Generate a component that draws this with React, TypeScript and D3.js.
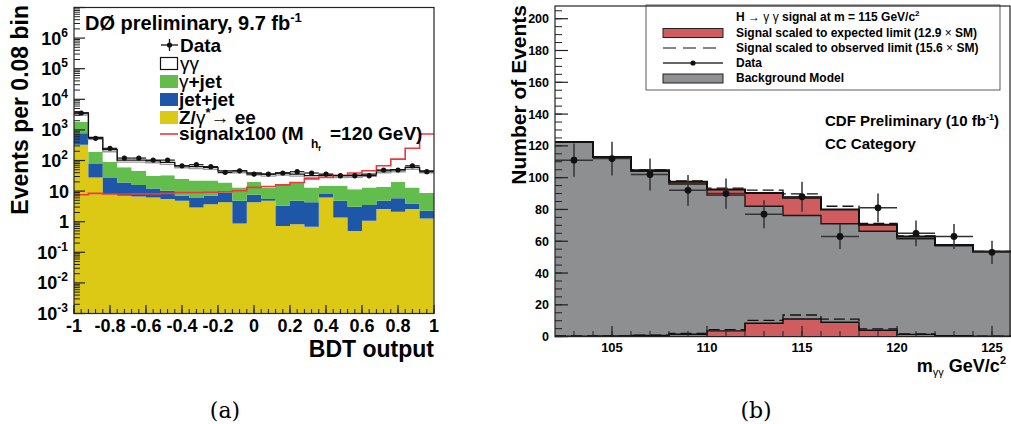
import React from 'react';
import * as d3 from 'd3';

// ---------------- Panel (a): D0 BDT output ----------------
const bdtTickValues = [-1, -0.8, -0.6, -0.4, -0.2, 0, 0.2, 0.4, 0.6, 0.8, 1];
const bdtTickLabels = ['-1', '-0.8', '-0.6', '-0.4', '-0.2', '0', '0.2', '0.4', '0.6', '0.8', '1'];
const logTickExponents = [-3, -2, -1, 0, 1, 2, 3, 4, 5, 6];

const d0Data = [3570, 530, 250, 120, 120, 103, 103, 67, 73, 63, 41, 46, 36, 36, 39, 43, 39, 36, 32, 32, 32, 49, 49, 67, 43];
const zee = [329, 28, 8.0, 7.0, 6.7, 6.2, 5.5, 4.8, 2.9, 3.75, 4.3, 0.87, 4.3, 4.8, 0.73, 0.83, 0.68, 6.2, 1.37, 0.5, 1.07, 2.6, 2.1, 2.6, 1.27];
const jetjet = [444, 49, 19, 12, 9.0, 6.0, 4.8, 2.2, 3.0, 3.25, 4.7, 3.93, 3.3, 0.7, 2.57, 3.97, 3.62, 1.8, 3.43, 2.6, 2.43, 2.2, 3.7, 1.3, 1.03];
const gammajet = [1087, 117, 64, 41, 30.3, 19.8, 22.7, 18, 16.1, 15, 10, 8.2, 12.4, 7.5, 13.7, 15.2, 8.7, 7, 10.2, 8.5, 9.5, 9.2, 14.2, 9.1, 6.3];
const gammagamma = [1710, 377, 134, 43, 57, 66, 54, 42, 41, 38, 27, 33, 19, 23, 22, 16, 19, 18, 17, 21.4, 23, 32, 30, 47, 37.4];
const signalx100 = [7.6, 8.4, 8.0, 8.0, 8.1, 8.1, 8.4, 9.0, 9.0, 9.2, 9.5, 10.3, 13.2, 14.2, 16, 19, 25, 28, 33, 39, 46, 67, 111, 250, 735];

// ---------------- Panel (b): CDF diphoton mass ----------------
const massTickValues = [105, 110, 115, 120, 125];
const countTickValues = [0, 20, 40, 60, 80, 100, 120, 140, 160, 180, 200];
const bkgModel = [122.2, 112.6, 104.0, 96.0, 89.0, 82.0, 76.2, 71.0, 66.3, 61.6, 57.2, 53.3];
const sigExpected = [0.3, 0.4, 0.7, 1.5, 3.6, 8.4, 11.1, 9.0, 4.0, 1.4, 0.5, 0.2];
const sigObserved = [0.4, 0.5, 0.9, 2.0, 4.4, 10.2, 13.6, 11.0, 4.9, 1.7, 0.6, 0.3];
const cdfData = [111, 112, 102, 92, 90, 77, 88, 63, 81, 65, 63, 53];
const cdfDataErr = [10.5, 10.6, 10.1, 9.6, 9.5, 8.8, 9.4, 7.9, 9.0, 8.1, 7.9, 7.3];

const FONT = '"Liberation Sans", Arial, Helvetica, sans-serif';
const C_YEL = '#dcc916';
const C_BLUE = '#1f57a8';
const C_GREEN = '#62bd4c';
const C_RED = '#ea3a3c';
const C_GRAY = '#8e8f91';
const C_SIG = '#cf5c5f';

type Pt = [number, number];

function stepPoints(lo: number, w: number, vals: number[]): Pt[] {
  const pts: Pt[] = vals.map((v, i) => [lo + i * w, v] as Pt);
  pts.push([lo + vals.length * w, vals[vals.length - 1]]);
  return pts;
}

function cumulate(layers: number[][]): number[][] {
  const out: number[][] = [];
  let acc = layers[0].map(() => 0);
  for (const l of layers) {
    acc = acc.map((a, i) => a + l[i]);
    out.push(acc.slice());
  }
  return out;
}

function PanelA() {
  const x = d3.scaleLinear().domain([-1, 1]).range([74, 434]);
  const y = d3.scaleLog().domain([1e-3, 1e7]).range([313.5, 7.5]).clamp(true);
  const bw = 0.08;
  const cum = cumulate([zee, jetjet, gammajet, gammagamma]);
  const colors = [C_YEL, C_BLUE, C_GREEN, '#ffffff'];
  const line = d3.line<Pt>().x(d => x(d[0])).y(d => y(d[1])).curve(d3.curveStepAfter);

  const layers = cum.map((top, li) => {
    const bottom = li === 0 ? top.map(() => 1e-3) : cum[li - 1];
    const ptsTop = stepPoints(-1, bw, top);
    const ptsBot = stepPoints(-1, bw, bottom);
    const a = d3.area<number>()
      .x(i => x(ptsTop[i][0]))
      .y0(i => y(ptsBot[i][1]))
      .y1(i => y(ptsTop[i][1]))
      .curve(d3.curveStepAfter);
    return <path key={li} d={a(ptsTop.map((_, i) => i)) || ''} fill={colors[li]} stroke="none" />;
  });

  const totalPts = stepPoints(-1, bw, cum[3]);
  const sigPts = stepPoints(-1, bw, signalx100);

  const minorY: number[] = [];
  for (let e = -3; e < 7; e++) for (let m = 2; m <= 9; m++) minorY.push(m * Math.pow(10, e));
  const minorX = d3.range(-1, 1.0001, 0.04);

  return (
    <g fontFamily={FONT}>
      {layers}
      <path d={line(totalPts) || ''} fill="none" stroke="#9a9a9a" strokeWidth={1.4} transform="translate(0,2)" />
      <path d={line(totalPts) || ''} fill="none" stroke="#111" strokeWidth={1.3} />
      <path d={line(sigPts) || ''} fill="none" stroke={C_RED} strokeWidth={1.6} />
      {d0Data.map((v, i) => {
        const cx = x(-1 + (i + 0.5) * bw);
        const e = Math.sqrt(v);
        return (
          <g key={i}>
            <line x1={x(-1 + i * bw)} x2={x(-1 + (i + 1) * bw)} y1={y(v)} y2={y(v)} stroke="#111" strokeWidth={1.2} />
            <line x1={cx} x2={cx} y1={y(v + e)} y2={y(Math.max(v - e, 1e-3))} stroke="#111" strokeWidth={1.2} />
            <circle cx={cx} cy={y(v)} r={2.6} fill="#111" />
          </g>
        );
      })}
      {/* frame */}
      <rect x={74} y={7.5} width={360} height={306} fill="none" stroke="#222" strokeWidth={1.2} />
      {/* y ticks */}
      {minorY.map((v, i) => (
        <line key={'my' + i} x1={74} x2={80} y1={y(v)} y2={y(v)} stroke="#222" strokeWidth={1} />
      ))}
      {logTickExponents.concat([7]).map(e => (
        <line key={'My' + e} x1={74} x2={85} y1={y(Math.pow(10, e))} y2={y(Math.pow(10, e))} stroke="#222" strokeWidth={1.2} />
      ))}
      {logTickExponents.map(e => {
        const ty = y(Math.pow(10, e)) + 6.5;
        if (e === 0) return <text key={'ly' + e} x={69} y={ty} textAnchor="end" fontSize={18} fontWeight="bold">1</text>;
        if (e === 1) return <text key={'ly' + e} x={69} y={ty} textAnchor="end" fontSize={18} fontWeight="bold">10</text>;
        return (
          <text key={'ly' + e} x={68} y={ty} textAnchor="end" fontSize={18} fontWeight="bold">
            10<tspan dy={-8} fontSize={12}>{String(e)}</tspan>
          </text>
        );
      })}
      {/* x ticks */}
      {minorX.map((v, i) => (
        <line key={'mx' + i} x1={x(v)} x2={x(v)} y1={313.5} y2={309} stroke="#222" strokeWidth={1} />
      ))}
      {bdtTickValues.map((v, i) => (
        <g key={'Mx' + i}>
          <line x1={x(v)} x2={x(v)} y1={313.5} y2={305} stroke="#222" strokeWidth={1.2} />
          <text x={x(v)} y={332} textAnchor="middle" fontSize={18} fontWeight="bold">{bdtTickLabels[i]}</text>
        </g>
      ))}
      {/* titles */}
      <text x={434} y={357} textAnchor="end" fontSize={23} fontWeight="bold">BDT output</text>
      <text transform="translate(28,5) rotate(-90)" textAnchor="end" fontSize={23} fontWeight="bold">Events per 0.08 bin</text>
      {/* legend */}
      <text x={85} y={30} fontSize={20} fontWeight="bold">DØ preliminary, 9.7 fb<tspan dy={-8} fontSize={13}>-1</tspan></text>
      <line x1={161} x2={178} y1={45} y2={45} stroke="#111" strokeWidth={1.3} />
      <line x1={169.5} x2={169.5} y1={39} y2={51} stroke="#111" strokeWidth={1.3} />
      <circle cx={169.5} cy={45} r={2.6} fill="#111" />
      <text x={180} y={52} fontSize={19} fontWeight="bold">Data</text>
      <rect x={160.5} y={57.5} width={17} height={12} fill="#fff" stroke="#111" strokeWidth={1.2} />
      <text x={180} y={70} fontSize={19}>γγ</text>
      <rect x={160} y={75} width={18} height={13} fill={C_GREEN} />
      <text x={179} y={88} fontSize={19}>γ<tspan fontWeight="bold">+jet</tspan></text>
      <rect x={160} y={93} width={18} height={13} fill={C_BLUE} />
      <text x={179} y={106} fontSize={19} fontWeight="bold">jet+jet</text>
      <rect x={160} y={111} width={18} height={13} fill={C_YEL} />
      <text x={179} y={124} fontSize={19} fontWeight="bold">Z/<tspan fontWeight="normal">γ</tspan><tspan dy={-7} fontSize={13}>*</tspan><tspan dy={7} fontWeight="normal">→</tspan> ee</text>
      <line x1={160} x2={178} y1={134} y2={134} stroke={C_RED} strokeWidth={1.6} />
      <text x={179} y={140} fontSize={19} fontWeight="bold">signalx100 (M</text>
      <text x={311} y={148} fontSize={12} fontWeight="bold">h</text>
      <text x={318} y={151} fontSize={8} fontWeight="bold">f</text>
      <text x={330} y={140} fontSize={19} fontWeight="bold">=120 GeV)</text>
    </g>
  );
}

function PanelB() {
  const x = d3.scaleLinear().domain([102, 126]).range([555, 1011]);
  const y = d3.scaleLinear().domain([0, 208]).range([336.6, 6]);
  const lo = 102, bw = 2;
  const sumExp = bkgModel.map((b, i) => b + sigExpected[i]);
  const sumObs = bkgModel.map((b, i) => b + sigObserved[i]);
  const pBkg = stepPoints(lo, bw, bkgModel);
  const pExp = stepPoints(lo, bw, sumExp);
  const pObs = stepPoints(lo, bw, sumObs);
  const pSigE = stepPoints(lo, bw, sigExpected);
  const pSigO = stepPoints(lo, bw, sigObserved);
  const line = d3.line<Pt>().x(d => x(d[0])).y(d => y(d[1])).curve(d3.curveStepAfter);
  const areaFrom = (top: Pt[], bot: Pt[]) =>
    d3.area<number>()
      .x(i => x(top[i][0]))
      .y0(i => y(bot[i][1]))
      .y1(i => y(top[i][1]))
      .curve(d3.curveStepAfter)(top.map((_, i) => i)) || '';
  const zeroPts = pBkg.map(p => [p[0], 0] as Pt);
  const minorY = d3.range(0, 206, 5);
  const minorX = d3.range(103, 126, 1);

  return (
    <g fontFamily={FONT}>
      <path d={areaFrom(pBkg, zeroPts)} fill={C_GRAY} />
      <path d={areaFrom(pExp, pBkg)} fill={C_SIG} />
      <path d={line(pBkg) || ''} fill="none" stroke="#1a1a1a" strokeWidth={1.4} />
      <path d={line(pExp) || ''} fill="none" stroke="#111" strokeWidth={2} />
      <path d={line(pObs) || ''} fill="none" stroke="#111" strokeWidth={1.3} strokeDasharray="11,5" />
      <path d={areaFrom(pSigE, zeroPts)} fill={C_SIG} />
      <path d={line(pSigE) || ''} fill="none" stroke="#111" strokeWidth={1.4} />
      <path d={line(pSigO) || ''} fill="none" stroke="#111" strokeWidth={1.3} strokeDasharray="11,5" />
      {cdfData.map((v, i) => {
        const cx = x(lo + (i + 0.5) * bw);
        return (
          <g key={i}>
            <line x1={x(lo + i * bw)} x2={x(lo + (i + 1) * bw)} y1={y(v)} y2={y(v)} stroke="#333" strokeWidth={1.5} />
            <line x1={cx} x2={cx} y1={y(v + cdfDataErr[i])} y2={y(v - cdfDataErr[i])} stroke="#333" strokeWidth={1.5} />
            <circle cx={cx} cy={y(v)} r={3.4} fill="#111" />
          </g>
        );
      })}
      <rect x={555} y={6} width={455} height={330.6} fill="none" stroke="#222" strokeWidth={1.2} />
      {minorY.map((v, i) => (
        <line key={'my' + i} x1={555} x2={562} y1={y(v)} y2={y(v)} stroke="#222" strokeWidth={1} />
      ))}
      {countTickValues.map(v => (
        <g key={'My' + v}>
          <line x1={555} x2={568} y1={y(v)} y2={y(v)} stroke="#222" strokeWidth={1.2} />
          <text x={549} y={y(v) + 4.5} textAnchor="end" fontSize={12.5} fontWeight="bold">{v}</text>
        </g>
      ))}
      {minorX.map((v, i) => (
        <line key={'mx' + i} x1={x(v)} x2={x(v)} y1={336.6} y2={331} stroke="#222" strokeWidth={1} />
      ))}
      {massTickValues.map(v => (
        <g key={'Mx' + v}>
          <line x1={x(v)} x2={x(v)} y1={336.6} y2={326} stroke="#222" strokeWidth={1.2} />
          <text x={x(v)} y={352} textAnchor="middle" fontSize={13} fontWeight="bold">{v}</text>
        </g>
      ))}
      <text x={1006} y={372} textAnchor="end" fontSize={18} fontWeight="bold">
        m<tspan dy={4} fontSize={11} fontWeight="normal">γγ</tspan><tspan dy={-4}> GeV/c</tspan><tspan dy={-8} fontSize={11}>2</tspan>
      </text>
      <text transform="translate(526,5) rotate(-90)" textAnchor="end" fontSize={21} fontWeight="bold">Number of Events</text>
      {/* legend */}
      <rect x={646} y={5} width={354} height={85} fill="none" stroke="#333" strokeWidth={0.8} />
      <text x={736} y={21} fontSize={12} fontWeight="bold">H <tspan fontWeight="normal">→ γ γ</tspan> signal at m = 115 GeV/c<tspan dy={-5} fontSize={8}>2</tspan></text>
      <rect x={663} y={28.5} width={60} height={9} fill={C_SIG} stroke="#222" strokeWidth={1} />
      <text x={736} y={37} fontSize={12} fontWeight="bold">Signal scaled to expected limit (12.9 <tspan fontWeight="normal">×</tspan> SM)</text>
      <line x1={663} x2={723} y1={48} y2={48} stroke="#111" strokeWidth={1.2} strokeDasharray="13,7" />
      <text x={736} y={52} fontSize={12} fontWeight="bold">Signal scaled to observed limit (15.6 <tspan fontWeight="normal">×</tspan> SM)</text>
      <line x1={663} x2={723} y1={63} y2={63} stroke="#333" strokeWidth={1.3} />
      <circle cx={693} cy={63} r={2.6} fill="#111" />
      <text x={736} y={67} fontSize={12} fontWeight="bold">Data</text>
      <rect x={663} y={74} width={60} height={9} fill={C_GRAY} stroke="#222" strokeWidth={1} />
      <text x={736} y={82} fontSize={12} fontWeight="bold">Background Model</text>
      <text x={825} y={126} fontSize={15} fontWeight="bold">CDF Preliminary (10 fb<tspan dy={-6} fontSize={9}>-1</tspan><tspan dy={6}>)</tspan></text>
      <text x={825} y={149} fontSize={15} fontWeight="bold">CC Category</text>
    </g>
  );
}

export default function App() {
  return (
    <svg width={1011} height={424} viewBox="0 0 1011 424" style={{ position: 'absolute', left: 0, top: 0, background: '#fff' }}>
      <rect width={1011} height={424} fill="#fff" />
      <PanelA />
      <PanelB />
      <text x={225} y={418} textAnchor="middle" fontSize={22} fontFamily='"DejaVu Serif", "Liberation Serif", serif'>(a)</text>
      <text x={756} y={418} textAnchor="middle" fontSize={22} fontFamily='"DejaVu Serif", "Liberation Serif", serif'>(b)</text>
    </svg>
  );
}
